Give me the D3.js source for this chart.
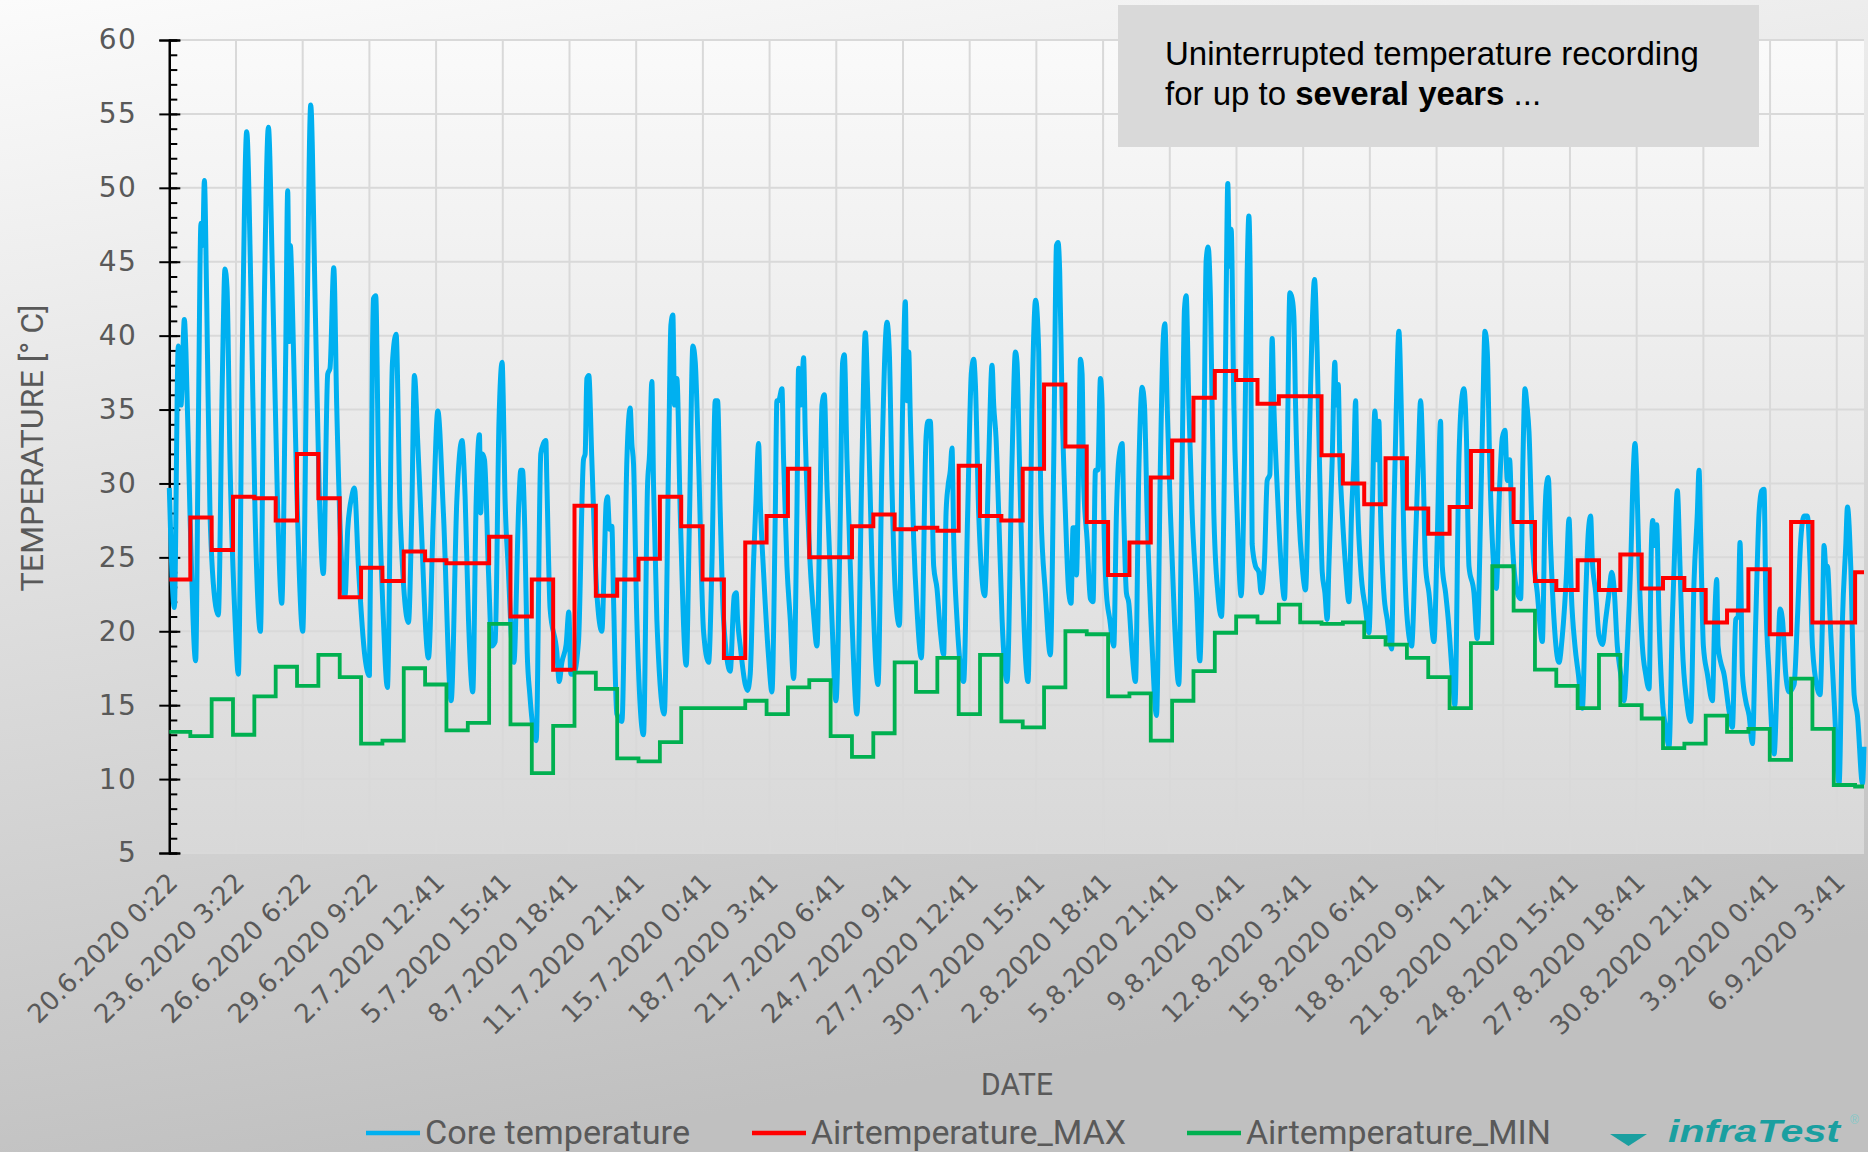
<!DOCTYPE html>
<html><head><meta charset="utf-8">
<script src="https://cdn.jsdelivr.net/npm/d3@7"></script>
<style>html,body{margin:0;padding:0;background:#fff}body{width:1868px;height:1152px;overflow:hidden}</style>
</head><body>
<svg id="chart" width="1868" height="1152"></svg>
<script>
// ---------- DATA ----------
// tick labels: one label every 75 hourly records
const tickLabels = ["20.6.2020 0:22","23.6.2020 3:22","26.6.2020 6:22","29.6.2020 9:22","2.7.2020 12:41","5.7.2020 15:41","8.7.2020 18:41","11.7.2020 21:41","15.7.2020 0:41","18.7.2020 3:41","21.7.2020 6:41","24.7.2020 9:41","27.7.2020 12:41","30.7.2020 15:41","2.8.2020 18:41","5.8.2020 21:41","9.8.2020 0:41","12.8.2020 3:41","15.8.2020 6:41","18.8.2020 9:41","21.8.2020 12:41","24.8.2020 15:41","27.8.2020 18:41","30.8.2020 21:41","3.9.2020 0:41","6.9.2020 3:41"];
const recordsPerLabel = 75;          // hours between labels
const firstRecordHour = 0.37;        // 20.6.2020 0:22, hours after midnight
const lastRecordHour = 1906;         // hours after 20.6.2020 0:00
const yTicks = [5,10,15,20,25,30,35,40,45,50,55,60];

// daily air temperature (one value per calendar day from 20.6.2020)
const airMax = [23.5,27.7,25.5,29.1,29.0,27.5,32.0,29.0,22.3,24.3,23.4,25.4,24.8,24.6,24.6,26.4,21.0,23.5,17.4,28.5,22.4,23.5,24.9,29.1,27.1,23.5,18.2,26.0,27.8,31.0,25.0,25.0,27.1,27.9,26.9,27.0,26.8,31.2,27.8,27.5,31.0,36.7,32.5,27.4,23.8,26.0,30.4,32.9,35.8,37.6,37.0,35.4,35.9,35.9,31.9,30.0,28.6,31.7,28.3,26.6,28.4,32.2,29.6,27.4,23.4,22.8,24.8,22.8,25.2,22.9,23.6,22.8,20.6,21.4,24.2,19.8,27.4,20.6,20.6,24.0];
const airMin = [13.2,12.9,15.4,13.0,15.6,17.6,16.3,18.4,16.9,12.4,12.6,17.5,16.4,13.3,13.8,20.5,13.7,10.4,13.6,17.2,16.1,11.4,11.2,12.5,14.8,14.8,14.8,15.3,14.4,16.2,16.7,12.9,11.5,13.1,17.9,15.9,18.2,14.4,18.4,13.9,13.5,16.2,20.0,19.8,15.6,15.8,12.6,15.3,17.3,19.9,21.0,20.6,21.8,20.6,20.5,20.6,19.6,19.1,18.2,16.9,14.8,19.2,24.4,21.4,17.4,16.3,14.8,18.4,15.0,14.1,12.1,12.4,14.3,13.2,13.4,11.3,16.8,13.4,9.6,9.5];

// core temperature: [hours after 20.6.2020 0:00, °C]
const coreTemperature = [
[0.4,29.7],[6.0,21.6],[10.5,39.3],[13.5,35.3],[17.3,41.1],[19.1,38.9],[23.6,28.0],[30.0,18.0],[33.0,33.6],[36.0,47.6],[37.9,46.1],[39.8,50.5],[42.4,42.5],[46.1,28.0],[52.5,21.7],[55.5,21.1],[60.0,37.1],[63.0,44.5],[65.3,43.2],[68.6,31.6],[74.3,20.8],[78.0,17.1],[82.5,38.9],[87.4,53.8],[92.3,42.5],[96.8,28.0],[102.8,20.0],[107.3,42.5],[111.8,54.1],[116.3,44.3],[122.3,28.0],[126.8,21.9],[131.3,38.9],[133.5,49.8],[135.4,39.6],[136.5,46.1],[138.0,44.0],[143.6,29.8],[150.4,20.0],[154.9,38.9],[159.4,55.6],[164.3,42.5],[168.8,29.8],[173.6,23.9],[178.5,37.4],[181.1,37.8],[185.3,44.6],[188.6,35.3],[194.3,24.4],[198.0,22.4],[201.0,26.9],[205.5,29.1],[208.5,29.7],[213.0,24.4],[220.5,18.2],[225.4,17.0],[228.8,38.9],[229.9,42.5],[232.5,42.7],[235.5,31.6],[241.1,20.8],[245.6,16.2],[251.3,38.2],[255.4,40.1],[259.9,28.0],[269.3,20.6],[273.0,28.0],[276.0,37.3],[279.8,32.7],[282.4,29.1],[291.8,18.2],[297.4,28.0],[302.3,34.9],[308.6,28.0],[317.3,15.3],[323.6,28.7],[329.5,32.9],
[333.0,29.1],[336.8,20.8],[341.6,15.9],[345.4,28.7],[349.1,33.3],[350.6,28.0],[352.5,32.0],[354.8,31.6],[359.3,24.0],[363.0,19.0],[366.8,19.3],[371.1,34.2],[374.6,38.2],[375.8,36.0],[377.6,29.8],[381.4,24.4],[387.8,17.9],[393.4,28.7],[395.6,30.9],[397.5,30.9],[400.1,26.9],[402.8,18.6],[405.8,15.7],[412.9,12.6],[418.1,32.0],[421.1,32.7],[423.8,32.9],[424.9,30.2],[428.6,21.5],[436.1,18.6],[438.8,16.6],[441.8,17.9],[446.6,19.1],[449.6,21.3],[451.9,17.1],[454.9,17.1],[460.5,19.3],[466.1,31.6],[468.0,32.0],[469.9,37.1],[472.1,37.3],[475.5,31.6],[481.1,22.6],[486.8,20.0],[489.4,24.4],[491.6,28.7],[493.1,29.1],[495.4,26.9],[498.0,27.1],[499.9,22.2],[503.6,14.4],[509.3,13.9],[514.9,31.6],[518.6,35.1],[520.5,32.7],[522.4,31.3],[526.1,20.8],[533.6,13.0],[538.1,29.8],[540.4,32.0],[543.0,36.9],[544.9,29.8],[548.6,20.8],[556.9,14.4],[561.8,31.6],[564.4,40.7],[566.6,41.4],[568.5,35.3],[571.1,37.1],[574.9,28.0],[581.6,17.7],[585.4,28.0],[589.1,39.3],[591.8,38.2],[595.5,31.6],[601.1,20.0],[606.8,17.9],[610.5,24.4],[614.3,35.6],[616.9,35.6],[619.9,28.0],[623.6,20.8],[631.1,17.3],[635.6,22.4],[637.9,22.6],[639.4,20.8],[642.4,19.0],[648.0,16.4],
[650.5,16.0],[653.6,17.1],[657.4,24.8],[660.0,28.7],[663.0,32.7],[664.9,28.7],[668.6,24.0],[674.3,18.2],[678.0,15.9],[681.8,28.0],[683.6,35.6],[685.5,35.6],[689.3,36.4],[691.1,31.6],[694.9,24.4],[698.6,20.8],[702.4,16.8],[706.1,28.0],[708.0,37.8],[710.6,35.3],[713.6,38.5],[715.5,33.3],[721.1,24.4],[724.9,21.1],[728.6,19.0],[732.4,29.6],[734.3,35.3],[736.9,36.0],[739.9,29.8],[745.5,20.8],[750.0,15.3],[754.9,28.0],[757.5,38.2],[759.4,38.7],[762.4,31.6],[768.0,20.8],[773.6,14.4],[779.3,31.6],[783.0,40.2],[786.0,35.3],[790.5,24.4],[797.3,16.4],[801.8,31.6],[807.4,40.9],[810.0,38.9],[813.0,29.8],[816.8,22.6],[821.3,20.4],[825.0,35.3],[828.0,42.3],[829.9,35.6],[831.8,38.9],[833.6,34.5],[837.4,26.2],[841.1,21.5],[846.0,18.2],[851.3,33.1],[853.5,34.2],[856.1,34.2],[859.9,24.4],[863.6,22.9],[867.4,20.0],[871.1,18.4],[873.8,28.0],[876.0,29.8],[878.6,30.9],[880.5,32.4],[882.4,26.2],[886.1,20.8],[893.6,16.6],[898.1,28.0],[902.3,37.5],[904.9,38.4],[906.8,36.7],[910.5,28.0],[917.3,22.4],[921.8,31.6],[925.5,38.0],[927.4,35.3],[930.0,33.1],[933.0,28.0],[936.8,20.8],[942.4,16.6],[948.0,31.6],[951.8,38.9],[953.6,38.2],[956.3,31.6],[959.3,24.4],[966.0,16.6],[970.5,35.3],
[974.5,42.4],[978.0,38.9],[980.6,28.0],[985.5,22.6],[991.1,18.4],[994.9,31.6],[997.9,46.1],[999.8,46.3],[1001.6,44.3],[1004.3,35.3],[1008.0,28.0],[1011.8,22.6],[1014.4,21.9],[1016.6,27.0],[1018.5,27.0],[1020.4,23.8],[1023.0,31.6],[1024.9,38.4],[1026.8,37.4],[1028.6,29.8],[1032.4,26.2],[1036.1,22.2],[1039.1,22.0],[1041.8,30.9],[1044.4,30.9],[1047.4,37.1],[1049.3,35.3],[1051.1,28.0],[1054.1,22.6],[1057.9,20.8],[1062.4,19.0],[1065.4,28.0],[1068.0,31.6],[1071.8,32.7],[1073.6,28.0],[1076.6,22.6],[1079.3,21.9],[1083.0,18.6],[1086.8,16.6],[1090.5,30.6],[1094.3,36.5],[1096.9,35.3],[1099.9,28.0],[1105.5,19.0],[1110.4,14.3],[1114.9,31.6],[1117.9,39.6],[1119.8,40.8],[1122.4,35.3],[1126.1,28.0],[1130.6,20.8],[1135.5,16.4],[1139.3,31.6],[1141.9,41.8],[1143.8,42.7],[1146.8,35.3],[1150.5,28.0],[1155.4,22.6],[1159.1,18.0],[1163.6,31.6],[1166.3,45.1],[1168.5,46.0],[1171.1,42.5],[1174.9,28.0],[1179.4,22.6],[1183.5,21.0],[1186.9,31.6],[1189.1,44.3],[1190.6,50.3],[1192.5,44.7],[1194.4,47.2],[1197.4,35.3],[1201.1,28.0],[1205.6,22.4],[1209.4,31.6],[1212.4,44.3],[1214.3,48.1],[1216.1,42.5],[1218.0,25.9],[1221.8,24.4],[1225.5,24.0],[1228.1,22.6],[1231.9,24.8],[1234.9,30.2],[1237.9,30.6],[1240.5,39.8],[1242.4,35.3],[1246.1,29.8],[1250.6,24.4],[1254.4,22.2],[1257.4,31.6],[1260.4,42.9],[1263.0,42.5],[1264.9,41.3],[1266.8,35.3],[1270.5,28.0],[1274.3,24.4],[1278.0,22.8],[1281.8,31.6],[1285.5,40.7],[1288.1,43.8],[1291.1,38.9],[1294.9,28.0],
[1296.8,24.0],[1299.8,22.6],[1302.4,20.8],[1304.3,24.4],[1308.0,31.6],[1311.0,38.2],[1312.5,35.3],[1314.8,36.7],[1316.6,31.6],[1319.3,28.0],[1323.0,24.4],[1326.8,22.0],[1329.8,28.0],[1332.4,31.6],[1334.3,35.6],[1336.1,29.8],[1339.9,24.4],[1345.5,21.5],[1349.3,19.9],[1353.0,28.0],[1356.0,34.9],[1358.6,31.6],[1360.5,34.2],[1362.4,28.0],[1366.1,22.6],[1369.9,20.8],[1374.8,18.8],[1377.4,28.0],[1380.0,34.9],[1383.0,40.3],[1385.6,35.3],[1388.6,26.2],[1392.4,20.8],[1397.3,19.0],[1401.8,26.2],[1404.8,31.6],[1407.4,35.6],[1410.0,31.6],[1413.0,24.4],[1416.8,22.6],[1422.4,19.3],[1426.1,26.2],[1429.9,34.2],[1431.8,24.4],[1435.5,22.6],[1438.5,20.8],[1443.0,17.1],[1446.0,15.0],[1450.5,31.6],[1453.5,35.6],[1456.1,36.4],[1458.8,33.5],[1461.8,24.4],[1467.4,22.6],[1471.1,19.5],[1474.9,28.0],[1477.5,35.3],[1479.8,40.3],[1482.4,38.9],[1485.0,31.6],[1488.0,26.2],[1492.5,22.9],[1496.3,29.8],[1499.3,33.1],[1502.3,33.6],[1504.9,30.2],[1507.5,31.6],[1510.5,26.2],[1516.1,22.6],[1519.9,22.2],[1522.5,31.6],[1524.8,36.4],[1527.0,35.3],[1529.3,33.5],[1533.0,26.2],[1538.6,22.6],[1544.3,19.3],[1547.3,28.0],[1548.8,29.8],[1551.0,30.4],[1553.6,25.8],[1557.4,20.8],[1563.0,17.9],[1566.8,19.7],[1571.3,23.7],[1574.3,27.6],[1576.9,22.6],[1581.0,19.0],[1584.8,17.1],[1589.3,14.8],[1593.0,22.2],[1596.0,26.7],[1598.6,27.8],[1600.5,24.8],[1604.3,22.6],[1608.0,19.7],[1612.0,19.1],
[1615.5,20.8],[1619.3,22.6],[1622.3,24.0],[1625.0,22.9],[1628.6,19.0],[1632.4,17.1],[1636.1,15.3],[1639.9,19.0],[1643.6,24.4],[1646.6,30.9],[1648.5,32.7],[1650.4,30.6],[1653.0,24.4],[1656.8,19.0],[1660.5,17.1],[1664.3,16.1],[1666.9,25.8],[1668.4,27.5],[1670.6,25.8],[1672.9,27.2],[1675.5,20.8],[1679.3,15.3],[1683.0,13.5],[1686.8,12.2],[1690.5,20.8],[1693.5,26.2],[1696.1,29.5],[1699.1,24.4],[1701.8,19.0],[1706.6,15.3],[1711.1,13.9],[1714.9,23.4],[1718.6,28.0],[1720.5,30.9],[1722.4,26.2],[1725.4,19.0],[1729.9,17.1],[1735.5,15.3],[1738.1,20.8],[1740.4,23.5],[1741.9,19.0],[1744.9,17.9],[1748.6,17.1],[1754.3,14.6],[1758.0,13.5],[1761.8,20.8],[1764.4,21.0],[1766.6,26.0],[1769.3,17.1],[1773.0,15.3],[1776.8,14.3],[1780.5,12.4],[1784.3,20.8],[1788.0,28.0],[1791.0,29.5],[1793.6,29.6],[1795.5,22.6],[1799.3,17.1],[1804.9,11.7],[1808.6,17.1],[1811.6,21.5],[1814.3,20.8],[1818.0,17.1],[1821.8,15.9],[1827.4,16.4],[1831.1,20.8],[1834.9,26.2],[1838.6,27.8],[1842.4,27.8],[1845.4,24.4],[1848.0,19.0],[1853.6,16.1],[1856.6,15.7],[1859.3,20.8],[1861.1,25.8],[1863.0,24.4],[1864.9,24.4],[1867.9,20.8],[1872.4,15.3],[1878.0,9.7],[1881.8,20.8],[1885.5,25.8],[1887.4,28.4],[1891.1,24.4],[1894.9,15.7],[1898.6,14.3],[1904.3,9.7],[1906.0,12.2]
];

const seriesNames = ["Core temperature","Airtemperature_MAX","Airtemperature_MIN"];
const seriesColors = ["#00B0F0","#FF0000","#00B050"];

// ---------- CHART ----------
const W = 1868, H = 1152;
const svg = d3.select("#chart");
const defs = svg.append("defs");
const bg = defs.append("linearGradient").attr("id","bg").attr("x1",0).attr("y1",0).attr("x2",0.25).attr("y2",1);
bg.append("stop").attr("offset","0%").attr("stop-color","#fbfbfb");
bg.append("stop").attr("offset","100%").attr("stop-color","#c0c0c0");
const pg = defs.append("linearGradient").attr("id","pg").attr("x1",0).attr("y1",0).attr("x2",0).attr("y2",1);
pg.append("stop").attr("offset","0%").attr("stop-color","#fafafa");
pg.append("stop").attr("offset","100%").attr("stop-color","#d8d8d8");

svg.append("rect").attr("width",W).attr("height",H).attr("fill","url(#bg)");

const x = d3.scaleLinear().domain([firstRecordHour, lastRecordHour]).range([169.3, 1864]);
const y = d3.scaleLinear().domain([5, 60]).range([853, 40]);
const [px0, px1] = x.range();
const [py1, py0] = y.range();

svg.append("rect").attr("x",px0).attr("y",py0).attr("width",px1-px0).attr("height",py1-py0).attr("fill","url(#pg)");

const tickHours = tickLabels.map((_, i) => firstRecordHour + i*recordsPerLabel);

// gridlines
const grid = svg.append("g").attr("stroke","#d9d9d9").attr("stroke-width",2);
grid.selectAll("line.h").data(yTicks).join("line").attr("class","h")
  .attr("x1",px0).attr("x2",px1).attr("y1",d=>y(d)).attr("y2",d=>y(d));
grid.selectAll("line.v").data(tickHours.slice(1)).join("line").attr("class","v")
  .attr("x1",d=>x(d)).attr("x2",d=>x(d)).attr("y1",py0).attr("y2",py1);

// y axis
const fontTick = "'DejaVu Sans', sans-serif";
const yAxisG = svg.append("g").attr("transform",`translate(${px0},0)`);
yAxisG.call(d3.axisLeft(y).tickValues(yTicks).tickSize(10).tickPadding(22).tickFormat(d3.format("d")));
yAxisG.append("g").call(d3.axisRight(y).tickValues(d3.range(5,61)).tickSize(8).tickFormat(""));
yAxisG.append("g").call(d3.axisRight(y).tickValues(yTicks).tickSize(11).tickFormat(""));
yAxisG.selectAll(".domain").attr("stroke","#000").attr("stroke-width",2);
yAxisG.selectAll(".tick line").attr("stroke","#000").attr("stroke-width",2);
yAxisG.selectAll("text").attr("font-family",fontTick).attr("font-size",28).attr("letter-spacing",1.5).attr("fill","#595959");

// x tick labels
svg.append("g").selectAll("text").data(tickLabels).join("text")
  .attr("transform",(d,i)=>`translate(${x(tickHours[i])+10},884) rotate(-45)`)
  .attr("text-anchor","end").attr("font-family",fontTick).attr("font-size",26).attr("fill","#595959")
  .text(d=>d);

// lines
const coreLine = d3.line().x(d=>x(d[0])).y(d=>y(d[1])).curve(d3.curveMonotoneX);
svg.append("path").datum(coreTemperature).attr("d",coreLine)
  .attr("fill","none").attr("stroke",seriesColors[0]).attr("stroke-width",5).attr("stroke-linejoin","round");

function daily(arr){
  const pts = arr.map((v,d)=>[Math.max(d*24, firstRecordHour), v]);
  pts.push([lastRecordHour, arr[arr.length-1]]);
  return pts;
}
const stepLine = d3.line().x(d=>x(d[0])).y(d=>y(d[1])).curve(d3.curveStepAfter);
svg.append("path").datum(daily(airMax)).attr("d",stepLine)
  .attr("fill","none").attr("stroke",seriesColors[1]).attr("stroke-width",4);
svg.append("path").datum(daily(airMin)).attr("d",stepLine)
  .attr("fill","none").attr("stroke",seriesColors[2]).attr("stroke-width",3.8);

// axis titles
const fontCond = "Roboto, 'DejaVu Sans', sans-serif";
svg.append("text").attr("transform","translate(43,448) rotate(-90)")
  .attr("text-anchor","middle").attr("font-family",fontCond).attr("font-size",31)
  .attr("fill","#595959").attr("textLength",287).attr("lengthAdjust","spacingAndGlyphs")
  .text("TEMPERATURE [° C]");
svg.append("text").attr("x",1017).attr("y",1095).attr("text-anchor","middle")
  .attr("font-family",fontCond).attr("font-size",32).attr("fill","#595959")
  .attr("textLength",72).attr("lengthAdjust","spacingAndGlyphs").text("DATE");

// legend
const legX = [366, 752, 1187];
const legW = [265, 315, 305];
const leg = svg.append("g");
seriesNames.forEach((n,i)=>{
  leg.append("line").attr("x1",legX[i]).attr("x2",legX[i]+54).attr("y1",1133).attr("y2",1133)
    .attr("stroke",seriesColors[i]).attr("stroke-width",4.5);
  leg.append("text").attr("x",legX[i]+59).attr("y",1144).attr("font-family",fontCond).attr("font-size",33)
    .attr("fill","#595959").attr("textLength",legW[i]).attr("lengthAdjust","spacingAndGlyphs").text(n);
});

// annotation box
svg.append("rect").attr("x",1118).attr("y",5).attr("width",641).attr("height",142).attr("fill","#d9d9d9");
const ann = svg.append("text").attr("font-family","'Liberation Sans', Arial, sans-serif").attr("font-size",33).attr("fill","#000");
ann.append("tspan").attr("x",1165).attr("y",65).text("Uninterrupted temperature recording");
ann.append("tspan").attr("x",1165).attr("y",105).text("for up to ");
ann.append("tspan").attr("font-weight","bold").text("several years");
ann.append("tspan").text(" ...");

// logo (kept fully inside the page)
const logo = svg.append("g").attr("fill","#1a9fa0");
logo.append("path").attr("d","M1610,1134 L1647,1134 L1628.5,1146 Z");
logo.append("text").attr("x",1668).attr("y",1142).attr("font-family","'Liberation Sans', Arial, sans-serif")
  .attr("font-size",32).attr("font-weight","bold").attr("font-style","italic")
  .attr("textLength",172).attr("lengthAdjust","spacingAndGlyphs").text("infraTest");
logo.append("text").attr("x",1850).attr("y",1124).attr("font-family","'Liberation Sans', Arial, sans-serif")
  .attr("font-size",12).attr("fill","#7fc8c8").text("®");
</script>
</body></html>
